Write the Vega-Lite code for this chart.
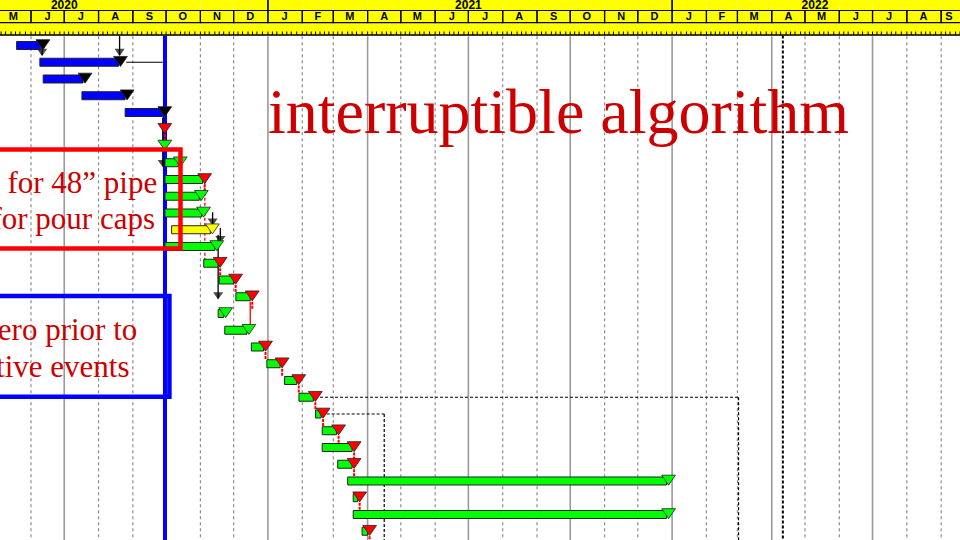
{
  "$schema": "https://vega.github.io/schema/vega-lite/v6.json",
  "width": 960,
  "height": 540,
  "autosize": {"type": "none"},
  "padding": 0,
  "background": "white",
  "config": {"view": {"stroke": null}},
  "resolve": {"scale": {"fill": "independent", "stroke": "independent"}},
  "datasets": {
    "tasks": [
      {"id": 1, "start": "2020-05-19", "end": "2020-06-10", "kind": "complete", "flag": "done"},
      {"id": 2, "start": "2020-06-09", "end": "2020-08-19", "kind": "complete", "flag": "done"},
      {"id": 3, "start": "2020-06-12", "end": "2020-07-18", "kind": "complete", "flag": "done"},
      {"id": 4, "start": "2020-07-17", "end": "2020-08-25", "kind": "complete", "flag": "done"},
      {"id": 5, "start": "2020-08-25", "end": "2020-09-28", "kind": "complete", "flag": "done"},
      {"id": 6, "start": null, "end": "2020-09-28", "kind": "milestone", "flag": "critical"},
      {"id": 7, "start": null, "end": "2020-09-28", "kind": "milestone", "flag": "ontrack"},
      {"id": 8, "start": "2020-09-30", "end": "2020-10-12", "kind": "planned", "flag": "ontrack"},
      {"id": 9, "start": "2020-09-30", "end": "2020-11-03", "kind": "planned", "flag": "critical"},
      {"id": 10, "start": "2020-09-30", "end": "2020-10-31", "kind": "planned", "flag": "ontrack"},
      {"id": 11, "start": "2020-09-30", "end": "2020-11-02", "kind": "planned", "flag": "ontrack"},
      {"id": 12, "start": "2020-10-06", "end": "2020-11-10", "kind": "alternate", "flag": "alternate"},
      {"id": 13, "start": "2020-09-30", "end": "2020-11-14", "kind": "planned", "flag": "ontrack"},
      {"id": 14, "start": "2020-11-04", "end": "2020-11-17", "kind": "planned", "flag": "critical"},
      {"id": 15, "start": "2020-11-18", "end": "2020-12-01", "kind": "planned", "flag": "critical"},
      {"id": 16, "start": "2020-12-03", "end": "2020-12-16", "kind": "planned", "flag": "critical"},
      {"id": 17, "start": "2020-11-17", "end": "2020-11-22", "kind": "planned", "flag": "ontrack"},
      {"id": 18, "start": "2020-11-23", "end": "2020-12-13", "kind": "planned", "flag": "ontrack"},
      {"id": 19, "start": "2020-12-17", "end": "2020-12-28", "kind": "planned", "flag": "critical"},
      {"id": 20, "start": "2020-12-31", "end": "2021-01-12", "kind": "planned", "flag": "critical"},
      {"id": 21, "start": "2021-01-16", "end": "2021-01-27", "kind": "planned", "flag": "critical"},
      {"id": 22, "start": "2021-01-29", "end": "2021-02-11", "kind": "planned", "flag": "critical"},
      {"id": 23, "start": "2021-02-13", "end": "2021-02-18", "kind": "planned", "flag": "critical"},
      {"id": 24, "start": "2021-02-19", "end": "2021-03-04", "kind": "planned", "flag": "critical"},
      {"id": 25, "start": "2021-02-19", "end": "2021-03-18", "kind": "planned", "flag": "critical"},
      {"id": 26, "start": "2021-03-05", "end": "2021-03-18", "kind": "planned", "flag": "critical"},
      {"id": 27, "start": "2021-03-14", "end": "2021-12-27", "kind": "planned", "flag": "ontrack"},
      {"id": 28, "start": "2021-03-19", "end": "2021-03-23", "kind": "planned", "flag": "critical"},
      {"id": 29, "start": "2021-03-19", "end": "2021-12-27", "kind": "planned", "flag": "ontrack"},
      {"id": 30, "start": "2021-03-27", "end": "2021-04-01", "kind": "planned", "flag": "critical"}
    ],
    "months": [
      {"start": "2020-05-01", "end": "2020-06-01", "mid": "2020-05-16", "label": "M"},
      {"start": "2020-06-01", "end": "2020-07-01", "mid": "2020-06-16", "label": "J"},
      {"start": "2020-07-01", "end": "2020-08-01", "mid": "2020-07-16", "label": "J"},
      {"start": "2020-08-01", "end": "2020-09-01", "mid": "2020-08-16", "label": "A"},
      {"start": "2020-09-01", "end": "2020-10-01", "mid": "2020-09-16", "label": "S"},
      {"start": "2020-10-01", "end": "2020-11-01", "mid": "2020-10-16", "label": "O"},
      {"start": "2020-11-01", "end": "2020-12-01", "mid": "2020-11-16", "label": "N"},
      {"start": "2020-12-01", "end": "2021-01-01", "mid": "2020-12-16", "label": "D"},
      {"start": "2021-01-01", "end": "2021-02-01", "mid": "2021-01-16", "label": "J"},
      {"start": "2021-02-01", "end": "2021-03-01", "mid": "2021-02-15", "label": "F"},
      {"start": "2021-03-01", "end": "2021-04-01", "mid": "2021-03-16", "label": "M"},
      {"start": "2021-04-01", "end": "2021-05-01", "mid": "2021-04-16", "label": "A"},
      {"start": "2021-05-01", "end": "2021-06-01", "mid": "2021-05-16", "label": "M"},
      {"start": "2021-06-01", "end": "2021-07-01", "mid": "2021-06-16", "label": "J"},
      {"start": "2021-07-01", "end": "2021-08-01", "mid": "2021-07-16", "label": "J"},
      {"start": "2021-08-01", "end": "2021-09-01", "mid": "2021-08-16", "label": "A"},
      {"start": "2021-09-01", "end": "2021-10-01", "mid": "2021-09-16", "label": "S"},
      {"start": "2021-10-01", "end": "2021-11-01", "mid": "2021-10-16", "label": "O"},
      {"start": "2021-11-01", "end": "2021-12-01", "mid": "2021-11-16", "label": "N"},
      {"start": "2021-12-01", "end": "2022-01-01", "mid": "2021-12-16", "label": "D"},
      {"start": "2022-01-01", "end": "2022-02-01", "mid": "2022-01-16", "label": "J"},
      {"start": "2022-02-01", "end": "2022-03-01", "mid": "2022-02-15", "label": "F"},
      {"start": "2022-03-01", "end": "2022-04-01", "mid": "2022-03-16", "label": "M"},
      {"start": "2022-04-01", "end": "2022-05-01", "mid": "2022-04-16", "label": "A"},
      {"start": "2022-05-01", "end": "2022-06-01", "mid": "2022-05-16", "label": "M"},
      {"start": "2022-06-01", "end": "2022-07-01", "mid": "2022-06-16", "label": "J"},
      {"start": "2022-07-01", "end": "2022-08-01", "mid": "2022-07-16", "label": "J"},
      {"start": "2022-08-01", "end": "2022-09-01", "mid": "2022-08-16", "label": "A"},
      {"start": "2022-09-01", "end": "2022-10-01", "mid": "2022-09-08", "label": "S"}
    ],
    "years": [
      {"start": "2020-01-01", "end": "2021-01-01", "mid": "2020-07-01", "label": "2020"},
      {"start": "2021-01-01", "end": "2022-01-01", "mid": "2021-07-01", "label": "2021"},
      {"start": "2022-01-01", "end": "2023-01-01", "mid": "2022-05-10", "label": "2022"}
    ],
    "ticks": [
      {"d": "2020-05-01"}, {"d": "2020-05-05"}, {"d": "2020-05-09"}, {"d": "2020-05-14"}, {"d": "2020-05-18"}, {"d": "2020-05-22"}, {"d": "2020-05-27"},
      {"d": "2020-06-01"}, {"d": "2020-06-05"}, {"d": "2020-06-09"}, {"d": "2020-06-14"}, {"d": "2020-06-18"}, {"d": "2020-06-22"}, {"d": "2020-06-27"},
      {"d": "2020-07-01"}, {"d": "2020-07-05"}, {"d": "2020-07-09"}, {"d": "2020-07-14"}, {"d": "2020-07-18"}, {"d": "2020-07-22"}, {"d": "2020-07-27"},
      {"d": "2020-08-01"}, {"d": "2020-08-05"}, {"d": "2020-08-09"}, {"d": "2020-08-14"}, {"d": "2020-08-18"}, {"d": "2020-08-22"}, {"d": "2020-08-27"},
      {"d": "2020-09-01"}, {"d": "2020-09-05"}, {"d": "2020-09-09"}, {"d": "2020-09-14"}, {"d": "2020-09-18"}, {"d": "2020-09-22"}, {"d": "2020-09-27"},
      {"d": "2020-10-01"}, {"d": "2020-10-05"}, {"d": "2020-10-09"}, {"d": "2020-10-14"}, {"d": "2020-10-18"}, {"d": "2020-10-22"}, {"d": "2020-10-27"},
      {"d": "2020-11-01"}, {"d": "2020-11-05"}, {"d": "2020-11-09"}, {"d": "2020-11-14"}, {"d": "2020-11-18"}, {"d": "2020-11-22"}, {"d": "2020-11-27"},
      {"d": "2020-12-01"}, {"d": "2020-12-05"}, {"d": "2020-12-09"}, {"d": "2020-12-14"}, {"d": "2020-12-18"}, {"d": "2020-12-22"}, {"d": "2020-12-27"},
      {"d": "2021-01-01"}, {"d": "2021-01-05"}, {"d": "2021-01-09"}, {"d": "2021-01-14"}, {"d": "2021-01-18"}, {"d": "2021-01-22"}, {"d": "2021-01-27"},
      {"d": "2021-02-01"}, {"d": "2021-02-05"}, {"d": "2021-02-09"}, {"d": "2021-02-13"}, {"d": "2021-02-17"}, {"d": "2021-02-21"}, {"d": "2021-02-25"},
      {"d": "2021-03-01"}, {"d": "2021-03-05"}, {"d": "2021-03-09"}, {"d": "2021-03-14"}, {"d": "2021-03-18"}, {"d": "2021-03-22"}, {"d": "2021-03-27"},
      {"d": "2021-04-01"}, {"d": "2021-04-05"}, {"d": "2021-04-09"}, {"d": "2021-04-14"}, {"d": "2021-04-18"}, {"d": "2021-04-22"}, {"d": "2021-04-27"},
      {"d": "2021-05-01"}, {"d": "2021-05-05"}, {"d": "2021-05-09"}, {"d": "2021-05-14"}, {"d": "2021-05-18"}, {"d": "2021-05-22"}, {"d": "2021-05-27"},
      {"d": "2021-06-01"}, {"d": "2021-06-05"}, {"d": "2021-06-09"}, {"d": "2021-06-14"}, {"d": "2021-06-18"}, {"d": "2021-06-22"}, {"d": "2021-06-27"},
      {"d": "2021-07-01"}, {"d": "2021-07-05"}, {"d": "2021-07-09"}, {"d": "2021-07-14"}, {"d": "2021-07-18"}, {"d": "2021-07-22"}, {"d": "2021-07-27"},
      {"d": "2021-08-01"}, {"d": "2021-08-05"}, {"d": "2021-08-09"}, {"d": "2021-08-14"}, {"d": "2021-08-18"}, {"d": "2021-08-22"}, {"d": "2021-08-27"},
      {"d": "2021-09-01"}, {"d": "2021-09-05"}, {"d": "2021-09-09"}, {"d": "2021-09-14"}, {"d": "2021-09-18"}, {"d": "2021-09-22"}, {"d": "2021-09-27"},
      {"d": "2021-10-01"}, {"d": "2021-10-05"}, {"d": "2021-10-09"}, {"d": "2021-10-14"}, {"d": "2021-10-18"}, {"d": "2021-10-22"}, {"d": "2021-10-27"},
      {"d": "2021-11-01"}, {"d": "2021-11-05"}, {"d": "2021-11-09"}, {"d": "2021-11-14"}, {"d": "2021-11-18"}, {"d": "2021-11-22"}, {"d": "2021-11-27"},
      {"d": "2021-12-01"}, {"d": "2021-12-05"}, {"d": "2021-12-09"}, {"d": "2021-12-14"}, {"d": "2021-12-18"}, {"d": "2021-12-22"}, {"d": "2021-12-27"},
      {"d": "2022-01-01"}, {"d": "2022-01-05"}, {"d": "2022-01-09"}, {"d": "2022-01-14"}, {"d": "2022-01-18"}, {"d": "2022-01-22"}, {"d": "2022-01-27"},
      {"d": "2022-02-01"}, {"d": "2022-02-05"}, {"d": "2022-02-09"}, {"d": "2022-02-13"}, {"d": "2022-02-17"}, {"d": "2022-02-21"}, {"d": "2022-02-25"},
      {"d": "2022-03-01"}, {"d": "2022-03-05"}, {"d": "2022-03-09"}, {"d": "2022-03-14"}, {"d": "2022-03-18"}, {"d": "2022-03-22"}, {"d": "2022-03-27"},
      {"d": "2022-04-01"}, {"d": "2022-04-05"}, {"d": "2022-04-09"}, {"d": "2022-04-14"}, {"d": "2022-04-18"}, {"d": "2022-04-22"}, {"d": "2022-04-27"},
      {"d": "2022-05-01"}, {"d": "2022-05-05"}, {"d": "2022-05-09"}, {"d": "2022-05-14"}, {"d": "2022-05-18"}, {"d": "2022-05-22"}, {"d": "2022-05-27"},
      {"d": "2022-06-01"}, {"d": "2022-06-05"}, {"d": "2022-06-09"}, {"d": "2022-06-14"}, {"d": "2022-06-18"}, {"d": "2022-06-22"}, {"d": "2022-06-27"},
      {"d": "2022-07-01"}, {"d": "2022-07-05"}, {"d": "2022-07-09"}, {"d": "2022-07-14"}, {"d": "2022-07-18"}, {"d": "2022-07-22"}, {"d": "2022-07-27"},
      {"d": "2022-08-01"}, {"d": "2022-08-05"}, {"d": "2022-08-09"}, {"d": "2022-08-14"}, {"d": "2022-08-18"}, {"d": "2022-08-22"}, {"d": "2022-08-27"},
      {"d": "2022-09-01"}, {"d": "2022-09-05"}, {"d": "2022-09-09"}, {"d": "2022-09-14"}, {"d": "2022-09-18"}
    ],
    "links": [
      {"type": "driving", "date": "2020-08-20", "r0": 0.4, "r1": 1.57},
      {"type": "driving", "date": "2020-06-11", "r0": 1.15, "r1": 1.57},
      {"type": "driving", "date": "2020-09-28", "r0": 5.3, "r1": 8.2},
      {"type": "driving", "date": "2020-11-12", "r0": 10.95, "r1": 11.7},
      {"type": "driving", "date": "2020-11-19", "r0": 11.9, "r1": 12.75},
      {"type": "driving", "date": "2020-11-17", "r0": 12.3, "r1": 16.1},
      {"type": "critical-lag", "date": "2020-11-05", "r0": 9.2, "r1": 13.8},
      {"type": "critical", "date": "2020-12-16", "r0": 16.3, "r1": 17.8}
    ],
    "hlinks": [
      {"row": 2, "from": "2020-08-26", "to": "2020-09-28"}
    ],
    "lags": [
      {"row": 22, "from": "2021-02-17", "to": "2022-03-02"},
      {"row": 23, "from": "2021-02-23", "to": "2021-04-16"}
    ]
  },
  "layer": [
    {
      "data": {"name": "months"},
      "transform": [{"filter": "utcmonth(toDate(datum.start)) % 3 != 0"}],
      "mark": {"type": "rule", "stroke": "#8c8c8c", "strokeWidth": 1.2, "strokeDash": [3, 3]},
      "encoding": {
        "x": {"field": "start", "type": "temporal", "axis": null},
        "y": {"datum": 0.45, "type": "quantitative", "axis": null},
        "y2": {"datum": 30.7}
      }
    },
    {
      "data": {"name": "months"},
      "transform": [{"filter": "utcmonth(toDate(datum.start)) % 3 == 0"}],
      "mark": {"type": "rule", "stroke": "#9a9a9a", "strokeWidth": 1.6},
      "encoding": {
        "x": {"field": "start", "type": "temporal", "axis": null},
        "y": {"datum": 0.45, "type": "quantitative", "axis": null},
        "y2": {"datum": 30.7}
      }
    },
    {
      "data": {"name": "lags"},
      "mark": {"type": "rule", "stroke": "#000000", "strokeWidth": 1, "strokeDash": [3, 2]},
      "encoding": {
        "x": {"field": "from", "type": "temporal", "axis": null},
        "x2": {"field": "to"},
        "y": {"field": "row", "type": "quantitative", "axis": null}
      }
    },
    {
      "data": {"name": "lags"},
      "mark": {"type": "rule", "stroke": "#000000", "strokeWidth": 1.2, "strokeDash": [3, 2]},
      "encoding": {
        "x": {"field": "to", "type": "temporal", "axis": null},
        "y": {"field": "row", "type": "quantitative", "axis": null},
        "y2": {"datum": 30.7}
      }
    },
    {
      "data": {"values": [{}]},
      "mark": {"type": "rule", "stroke": "#000000", "strokeWidth": 2, "strokeDash": [3, 2]},
      "encoding": {
        "x": {"datum": {"year": 2022, "month": 4, "date": 11, "utc": true}, "type": "temporal", "axis": null},
        "y": {"datum": 0.4, "type": "quantitative", "axis": null},
        "y2": {"datum": 30.7}
      }
    },
    {
      "data": {"values": [{}]},
      "mark": {"type": "rule", "stroke": "#0000ff", "strokeWidth": 4},
      "encoding": {
        "x": {"datum": {"year": 2020, "month": 9, "date": 30, "utc": true}, "type": "temporal", "axis": null},
        "y": {"datum": 0.4, "type": "quantitative", "axis": null},
        "y2": {"datum": 30.7}
      }
    },
    {
      "data": {"name": "hlinks"},
      "mark": {"type": "rule", "stroke": "#000000", "strokeWidth": 1},
      "encoding": {
        "x": {"field": "from", "type": "temporal", "axis": null},
        "x2": {"field": "to"},
        "y": {"field": "row", "type": "quantitative", "axis": null}
      }
    },
    {
      "data": {"name": "links"},
      "mark": {"type": "rule", "strokeWidth": 1.3},
      "encoding": {
        "x": {"field": "date", "type": "temporal", "axis": null},
        "y": {"field": "r0", "type": "quantitative", "axis": null},
        "y2": {"field": "r1"},
        "stroke": {"field": "type", "type": "nominal", "legend": null,
          "scale": {"domain": ["driving", "critical", "critical-lag"], "range": ["#000000", "#ff0000", "#ff0000"]}},
        "strokeDash": {"field": "type", "type": "nominal", "legend": null,
          "scale": {"domain": ["driving", "critical", "critical-lag"], "range": [[1, 0], [1, 0], [3, 2]]}}
      }
    },
    {
      "data": {"name": "links"},
      "transform": [{"filter": "datum.type == 'driving'"}],
      "mark": {"type": "point", "shape": "M-1,-0.7L1,-0.7L0,0.75Z", "filled": true, "fill": "#000000", "stroke": "#000000", "size": 40, "yOffset": -3},
      "encoding": {
        "x": {"field": "date", "type": "temporal", "axis": null},
        "y": {"field": "r1", "type": "quantitative", "axis": null}
      }
    },
    {
      "data": {"name": "tasks"},
      "transform": [{"filter": "datum.flag == 'critical'"}],
      "mark": {"type": "rule", "stroke": "#ff0000", "strokeWidth": 2, "strokeDash": [3, 1], "xOffset": 2, "yOffset": 5, "y2Offset": 12},
      "encoding": {
        "x": {"field": "end", "type": "temporal", "axis": null},
        "y": {"field": "id", "type": "quantitative", "axis": null},
        "y2": {"field": "id"}
      }
    },
    {
      "data": {"name": "tasks"},
      "transform": [{"filter": "datum.start != null"}],
      "mark": {"type": "bar", "height": 8, "stroke": "#222222", "strokeWidth": 1},
      "encoding": {
        "x": {"field": "start", "type": "temporal", "axis": null,
          "scale": {"type": "utc", "nice": false, "padding": 0,
            "domain": [{"year": 2020, "month": 5, "date": 4, "utc": true}, {"year": 2022, "month": 9, "date": 18, "utc": true}]}},
        "x2": {"field": "end"},
        "y": {"field": "id", "type": "quantitative",
          "scale": {"domain": [-1.7164, 30.5224], "reverse": true, "nice": false, "zero": false, "padding": 0},
          "axis": {"values": [2.34, 7.36, 12.37, 17.39, 22.4, 27.42], "grid": true, "gridColor": "#9a9a9a", "gridWidth": 1.5,
            "labels": false, "ticks": false, "domain": false, "title": null, "zindex": 0}},
        "fill": {"field": "kind", "type": "nominal", "legend": null,
          "scale": {"domain": ["complete", "planned", "alternate"], "range": ["#0000ff", "#00ff00", "#ffff00"]}}
      }
    },
    {
      "data": {"name": "tasks"},
      "mark": {"type": "point", "shape": "M-1,-0.7L1,-0.7L0,0.75Z", "filled": true, "size": 190, "stroke": "#222222", "strokeWidth": 0.8, "opacity": 1, "xOffset": 2, "yOffset": -1},
      "encoding": {
        "x": {"field": "end", "type": "temporal", "axis": null},
        "y": {"field": "id", "type": "quantitative", "axis": null},
        "fill": {"field": "flag", "type": "nominal", "legend": null,
          "scale": {"domain": ["done", "critical", "ontrack", "alternate"], "range": ["#000000", "#ff0000", "#00ff00", "#ffff00"]}}
      }
    },
    {
      "data": {"values": [{}]},
      "mark": {"type": "rect", "filled": false, "stroke": "#ff0000", "strokeWidth": 4.5},
      "encoding": {
        "x": {"datum": {"year": 2020, "month": 4, "date": 1, "utc": true}, "type": "temporal", "axis": null},
        "x2": {"datum": {"year": 2020, "month": 10, "date": 14, "utc": true}},
        "y": {"datum": 7.21, "type": "quantitative", "axis": null},
        "y2": {"datum": 13.12}
      }
    },
    {
      "data": {"values": [{}]},
      "mark": {"type": "rect", "filled": false, "stroke": "#0000ff", "strokeWidth": 4.5},
      "encoding": {
        "x": {"datum": {"year": 2020, "month": 4, "date": 1, "utc": true}, "type": "temporal", "axis": null},
        "x2": {"datum": {"year": 2020, "month": 10, "date": 4, "utc": true}},
        "y": {"datum": 15.955, "type": "quantitative", "axis": null},
        "y2": {"datum": 21.967}
      }
    },
    {
      "data": {"values": [{}]},
      "mark": {"type": "text", "text": "interruptible algorithm", "font": "Liberation Serif", "fontSize": 64, "fill": "#cc0000", "align": "left", "baseline": "alphabetic"},
      "encoding": {
        "x": {"datum": {"year": 2021, "month": 1, "date": 1, "utc": true}, "type": "temporal", "axis": null},
        "y": {"datum": 6.224, "type": "quantitative", "axis": null}
      }
    },
    {
      "data": {"values": [{}]},
      "mark": {"type": "text", "text": "for 48\u201d pipe", "font": "Liberation Serif", "fontSize": 31, "fill": "#cc0000", "align": "right", "baseline": "alphabetic"},
      "encoding": {
        "x": {"datum": {"year": 2020, "month": 9, "date": 23, "utc": true}, "type": "temporal", "axis": null},
        "y": {"datum": 9.806, "type": "quantitative", "axis": null}
      }
    },
    {
      "data": {"values": [{}]},
      "mark": {"type": "text", "text": "for pour caps", "font": "Liberation Serif", "fontSize": 31, "fill": "#cc0000", "align": "right", "baseline": "alphabetic"},
      "encoding": {
        "x": {"datum": {"year": 2020, "month": 9, "date": 21, "utc": true}, "type": "temporal", "axis": null},
        "y": {"datum": 11.955, "type": "quantitative", "axis": null}
      }
    },
    {
      "data": {"values": [{}]},
      "mark": {"type": "text", "text": "ero prior to", "font": "Liberation Serif", "fontSize": 31, "fill": "#cc0000", "align": "right", "baseline": "alphabetic"},
      "encoding": {
        "x": {"datum": {"year": 2020, "month": 9, "date": 5, "utc": true}, "type": "temporal", "axis": null},
        "y": {"datum": 18.582, "type": "quantitative", "axis": null}
      }
    },
    {
      "data": {"values": [{}]},
      "mark": {"type": "text", "text": "tive events", "font": "Liberation Serif", "fontSize": 31, "fill": "#cc0000", "align": "right", "baseline": "alphabetic"},
      "encoding": {
        "x": {"datum": {"year": 2020, "month": 8, "date": 29, "utc": true}, "type": "temporal", "axis": null},
        "y": {"datum": 20.792, "type": "quantitative", "axis": null}
      }
    },
    {
      "data": {"name": "months"},
      "mark": {"type": "rect", "fill": "#ffff00", "strokeWidth": 0},
      "encoding": {
        "x": {"field": "start", "type": "temporal", "axis": null},
        "x2": {"field": "end"},
        "y": {"datum": -1.8, "type": "quantitative", "axis": null},
        "y2": {"datum": 0.403}
      }
    },
    {
      "data": {"name": "ticks"},
      "mark": {"type": "rule", "stroke": "#000000", "strokeWidth": 1},
      "encoding": {
        "x": {"field": "d", "type": "temporal", "axis": null},
        "y": {"datum": 0.164, "type": "quantitative", "axis": null},
        "y2": {"datum": 0.37}
      }
    },
    {
      "data": {"values": [{}]},
      "mark": {"type": "rule", "stroke": "#000000", "strokeWidth": 1.6},
      "encoding": {
        "y": {"datum": 0.37, "type": "quantitative", "axis": null}
      }
    },
    {
      "data": {"name": "years"},
      "mark": {"type": "rect", "filled": false, "stroke": "#000000", "strokeWidth": 1.2},
      "encoding": {
        "x": {"field": "start", "type": "temporal", "axis": null},
        "x2": {"field": "end"},
        "y": {"datum": -1.8, "type": "quantitative", "axis": null},
        "y2": {"datum": -1.09}
      }
    },
    {
      "data": {"name": "months"},
      "mark": {"type": "rect", "filled": false, "stroke": "#000000", "strokeWidth": 1.2},
      "encoding": {
        "x": {"field": "start", "type": "temporal", "axis": null},
        "x2": {"field": "end"},
        "y": {"datum": -1.09, "type": "quantitative", "axis": null},
        "y2": {"datum": -0.37}
      }
    },
    {
      "data": {"name": "years"},
      "mark": {"type": "text", "font": "Liberation Sans", "fontWeight": "bold", "fontSize": 12, "fill": "#000000", "align": "center", "baseline": "alphabetic"},
      "encoding": {
        "x": {"field": "mid", "type": "temporal", "axis": null},
        "y": {"datum": -1.179, "type": "quantitative", "axis": null},
        "text": {"field": "label"}
      }
    },
    {
      "data": {"name": "months"},
      "mark": {"type": "text", "font": "Liberation Sans", "fontWeight": "bold", "fontSize": 11, "fill": "#000000", "align": "center", "baseline": "alphabetic"},
      "encoding": {
        "x": {"field": "mid", "type": "temporal", "axis": null},
        "y": {"datum": -0.504, "type": "quantitative", "axis": null},
        "text": {"field": "label"}
      }
    }
  ]
}
